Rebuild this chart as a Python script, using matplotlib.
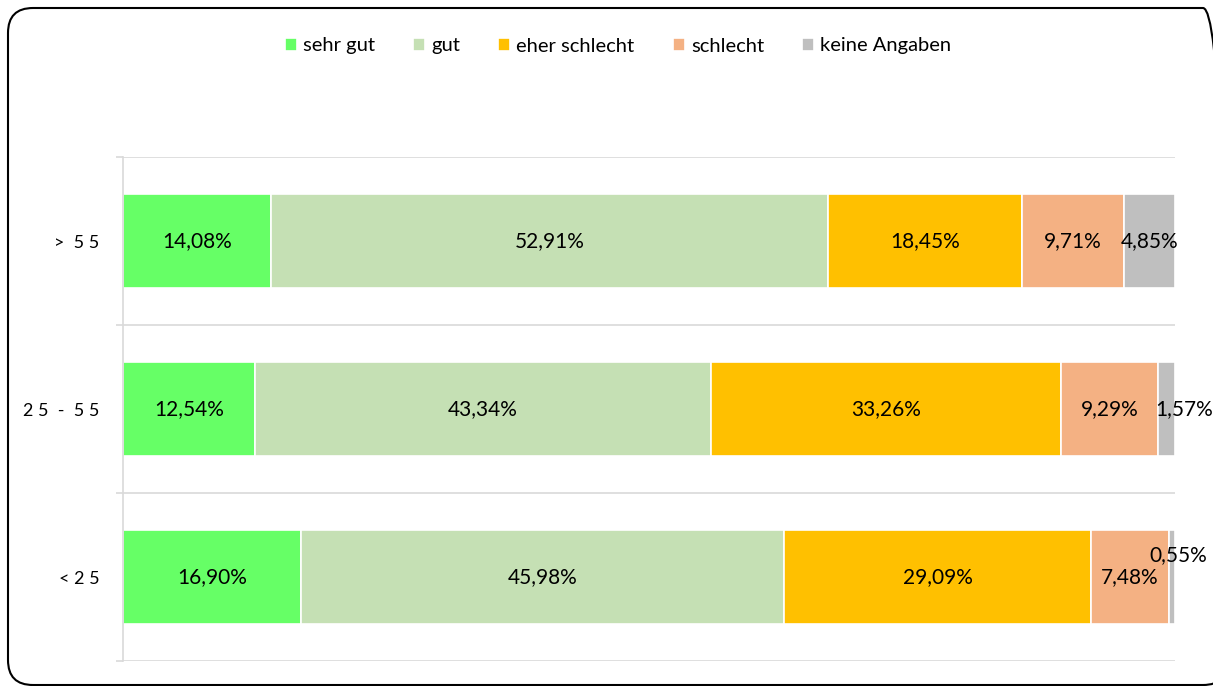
import matplotlib.pyplot as plt
from matplotlib.patches import FancyBboxPatch
import numpy as np

plt.rcParams['font.family'] = ['Lato', 'DejaVu Sans']

# data (bottom to top)
groups = ["< 2 5", "2 5  -  5 5", ">  5 5"]
series = ["sehr gut", "gut", "eher schlecht", "schlecht", "keine Angaben"]
sehr_gut = [16.90, 12.54, 14.08]
gut = [45.98, 43.34, 52.91]
eher_schlecht = [29.09, 33.26, 18.45]
schlecht = [7.48, 9.29, 9.71]
keine_angaben = [0.55, 1.57, 4.85]
colors = ["#66FF66", "#C5E0B4", "#FFC000", "#F4B183", "#BFBFBF"]

values = [sehr_gut, gut, eher_schlecht, schlecht, keine_angaben]

fig = plt.figure(figsize=(12.13, 6.86), dpi=100)
ax = fig.add_axes([123/1213, 25/686, 1052/1213, 504/686])

# rounded frame of the chart area (right edge just outside the picture)
frame = FancyBboxPatch((0.08, 0.01), 12.2, 6.77,
                       boxstyle="round,pad=0,rounding_size=0.25",
                       transform=fig.dpi_scale_trans, fill=False,
                       edgecolor="black", linewidth=1.5, clip_on=False)
fig.patches.append(frame)

y = np.arange(len(groups))
left = np.zeros(len(groups))
for name, vals, col in zip(series, values, colors):
    vals = np.array(vals)
    bars = ax.barh(y, vals, left=left, height=0.555, color=col,
                   edgecolor="white", linewidth=1.2, label=name)
    for i, b in enumerate(bars):
        txt = f"{vals[i]:.2f}%".replace(".", ",")
        dx, dy = 0, 0
        if vals[i] < 1:
            dx, dy = 6, 22
        elif vals[i] < 3:
            dx = 17
        ax.annotate(txt, (left[i] + vals[i] / 2, y[i]), xytext=(dx, dy),
                    textcoords="offset pixels", ha="center", va="center",
                    fontsize=15, color="black", annotation_clip=False)
    left += vals

ax.set_xlim(0, 100)
ax.set_ylim(-0.5, 2.5)
ax.set_yticks(y)
ax.set_yticklabels(groups, fontsize=13)
ax.set_yticks([-0.5, 0.5, 1.5, 2.5], minor=True)
ax.tick_params(axis="y", which="major", length=0, pad=17)
ax.tick_params(axis="y", which="minor", length=5, color="#D9D9D9", width=1.2)
ax.set_xticks([])
ax.grid(axis="y", which="minor", color="#D9D9D9", linewidth=1.2)
ax.set_axisbelow(True)
for s in ["top", "right", "bottom"]:
    ax.spines[s].set_visible(False)
ax.spines["left"].set_color("#D9D9D9")
ax.spines["left"].set_linewidth(1.2)

fig.legend(loc="center", bbox_to_anchor=(618/1213, 1 - 46/686), ncol=5,
           frameon=False, fontsize=14.5, handlelength=0.6, handleheight=0.6,
           handletextpad=0.3, columnspacing=1.9)

fig.savefig("out.png", dpi=100)
